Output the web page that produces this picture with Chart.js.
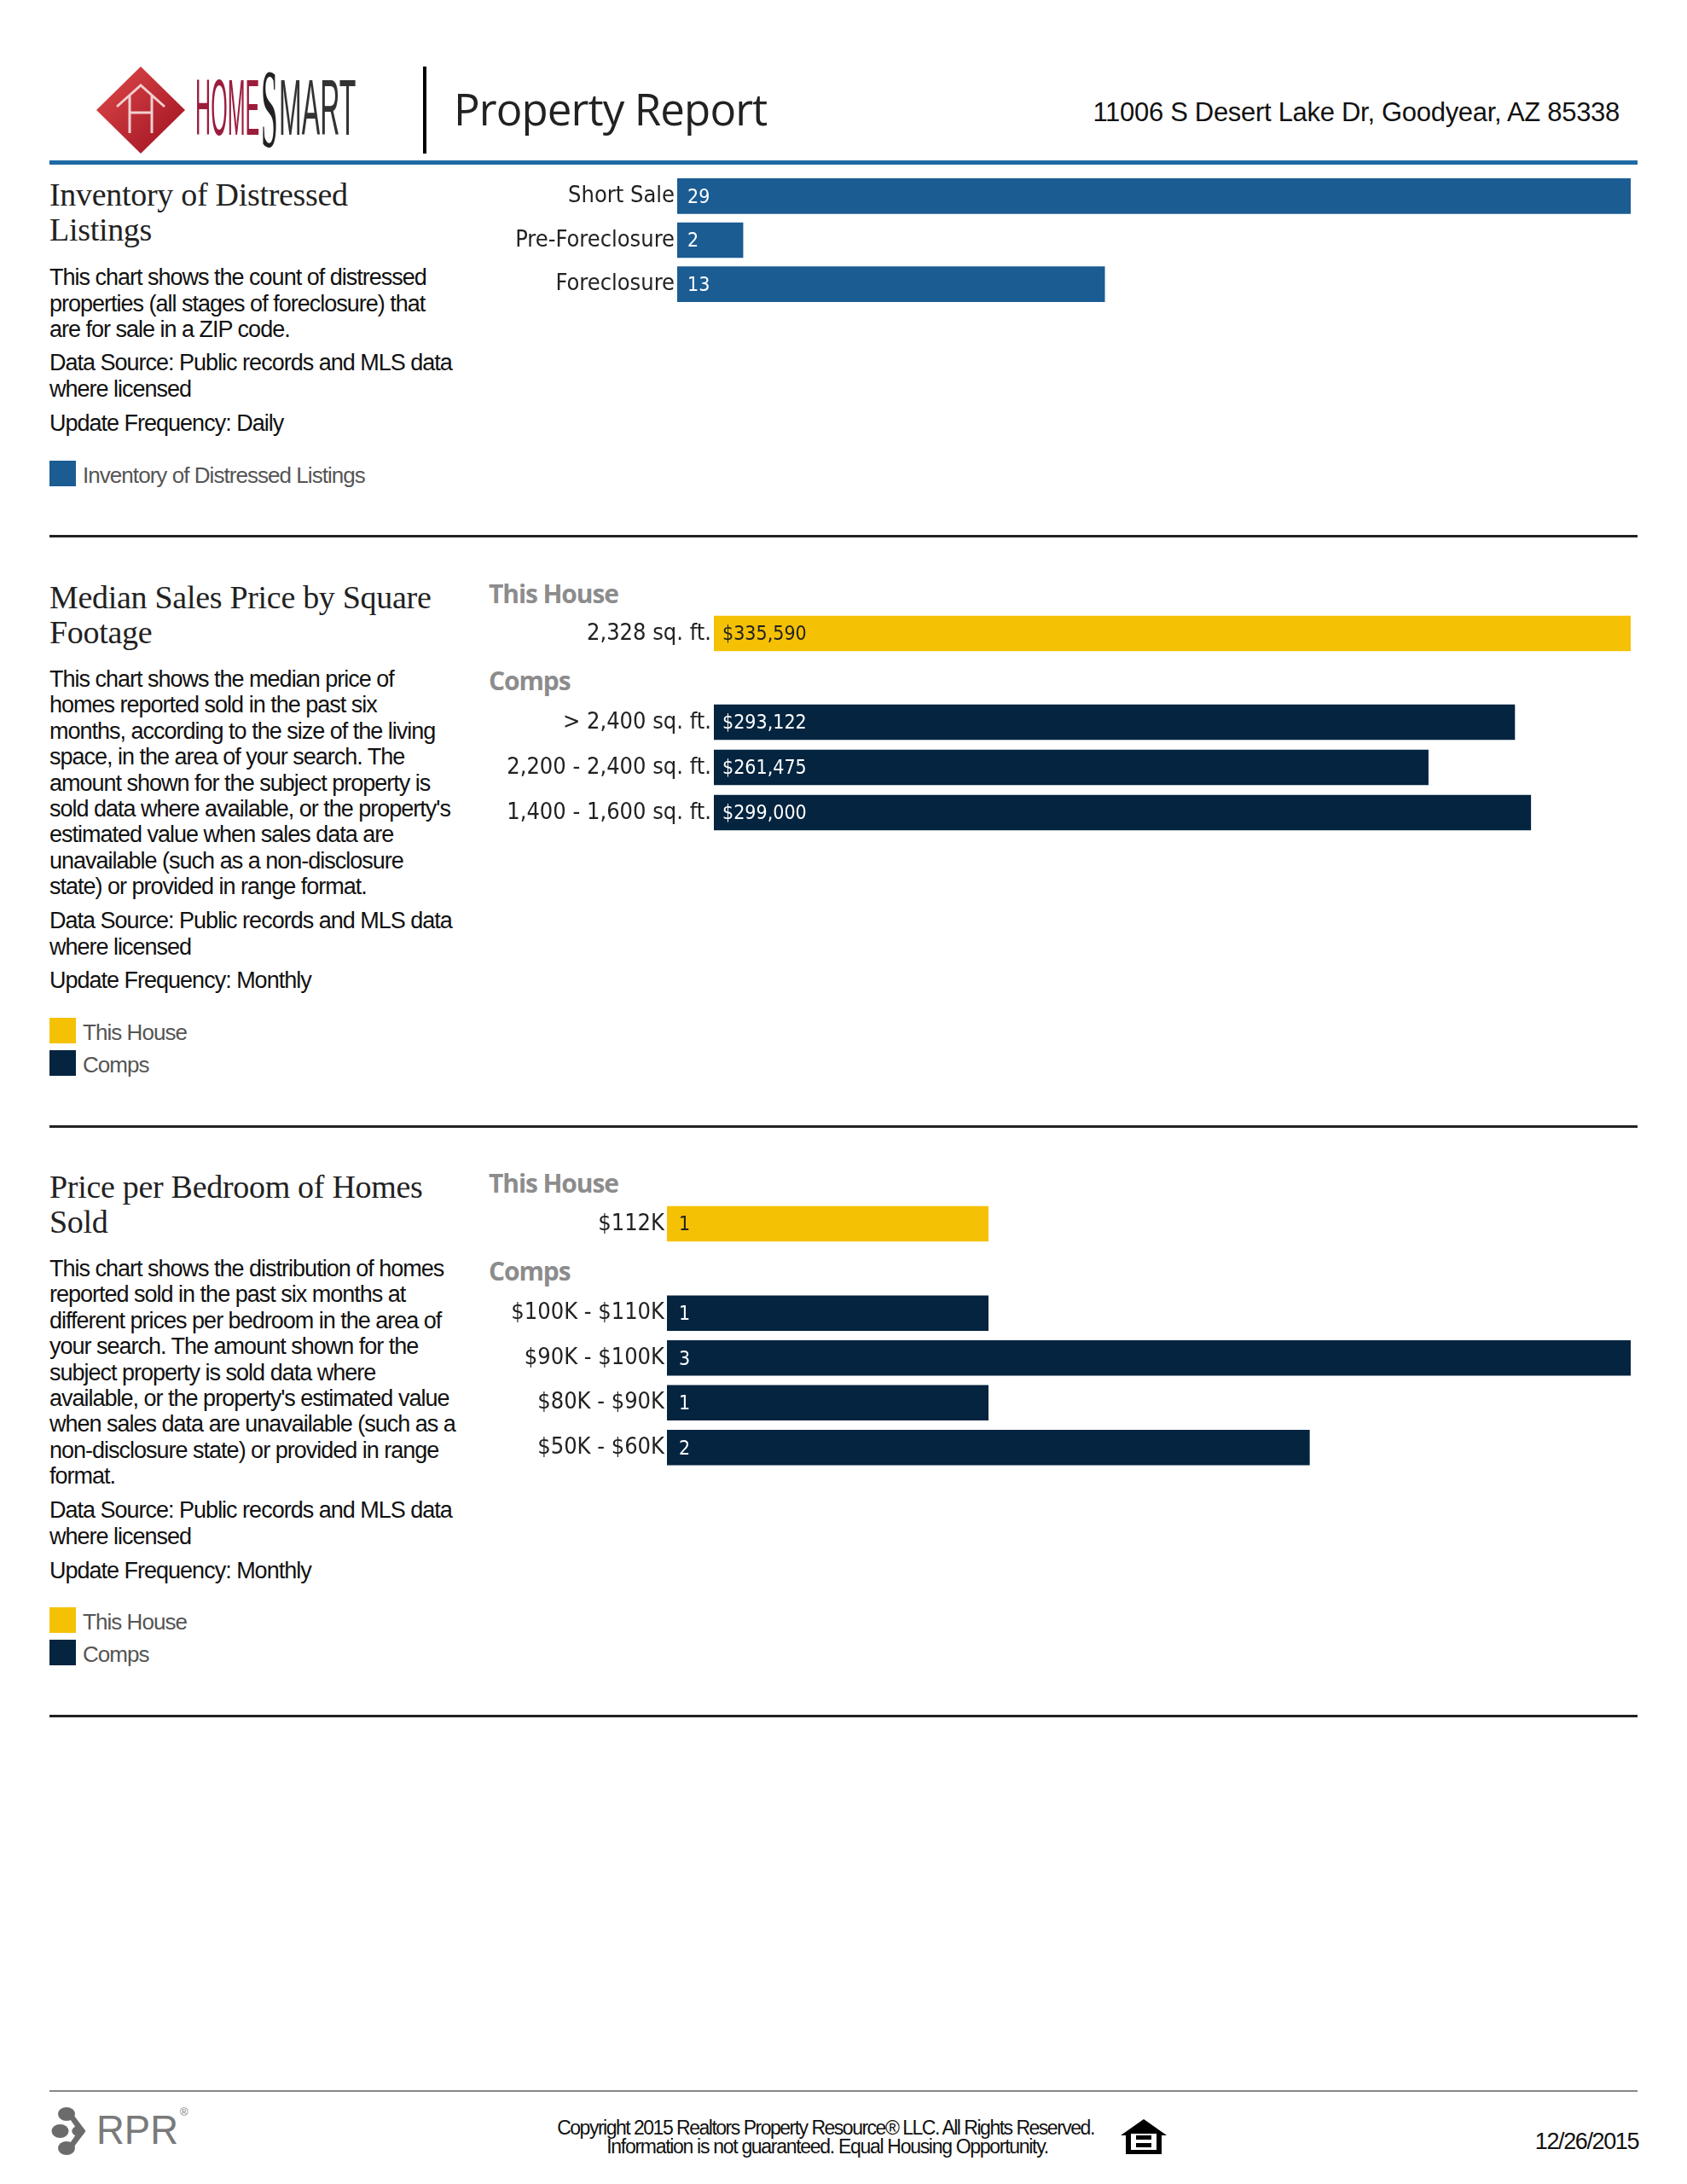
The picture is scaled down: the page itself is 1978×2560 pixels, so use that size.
<!DOCTYPE html>
<html>
<head>
<meta charset="utf-8">
<title>Property Report</title>
<script src="https://cdn.jsdelivr.net/npm/chart.js@4"></script>
<style>
html, body { margin: 0; background: #fff; }
#page { position: relative; width: 1978px; height: 2560px; overflow: hidden; }
#page canvas { position: absolute; }
.t { position: absolute; white-space: nowrap; line-height: 1; transform: translateY(-50%); }
.title { font-family: "Liberation Serif", serif; font-size: 38px; letter-spacing: -0.3px; color: #222; left: 58px; }
.body { font-family: "Liberation Sans", sans-serif; font-size: 27px; letter-spacing: -1px; color: #111; left: 58px; }
.leg { font-family: "Liberation Sans", sans-serif; font-size: 26px; letter-spacing: -0.95px; color: #555; left: 97px; }
.head { font-family: "Open Sans", sans-serif; font-weight: 700; font-size: 30px; letter-spacing: -1.1px; color: #8c8c8c; left: 573px; }
.logo { transform-origin: left center; font-family: "Liberation Sans", sans-serif; font-size: 93px; }
.swatch { position: absolute; left: 58px; width: 31px; height: 30px; }
.rule { position: absolute; left: 58px; width: 1862px; }
</style>
</head>
<body>
<div id="page">
  <svg style="position:absolute;left:0;top:0" width="520" height="200">
    <defs>
      <linearGradient id="red" x1="0" y1="0" x2="1" y2="1">
        <stop offset="0" stop-color="#e04a4a"/><stop offset="1" stop-color="#9c1020"/>
      </linearGradient>
    </defs>
    <polygon points="165,78 217,129 165,180 113,129" fill="url(#red)"/>
    <path d="M137 125 L165 100 L193 125 M152 112 V156 M178 112 V156 M152 132 H178" stroke="#f0d0d0" stroke-width="3" fill="none"/>
    <rect x="496" y="78" width="4" height="102" fill="#000"/>
  </svg>
  <div class="t logo" style="left:229px;top:126px;color:#9c1c3c;transform:translateY(-50%) scaleX(.27)">HOME</div>
  <div class="t logo" style="left:306px;top:128px;font-family:'Liberation Serif';font-size:132px;color:#222;transform:translateY(-50%) scaleX(.27)">S</div>
  <div class="t logo" style="left:327px;top:126px;color:#333;transform:translateY(-50%) scaleX(.345)">MART</div>
  <div class="t" style="left:532px;top:127px;font-family:'Open Sans';font-size:51px;letter-spacing:-0.9px;color:#222">Property Report</div>
  <div class="t" style="right:79px;top:131px;font-family:'Liberation Sans';font-size:31px;letter-spacing:-0.3px;color:#111">11006 S Desert Lake Dr, Goodyear, AZ 85338</div>
  <div class="rule" style="top:188px;height:5px;background:#1f69a4"></div>
  <div class="rule" style="top:627px;height:3px;background:#222"></div>
  <div class="rule" style="top:1319px;height:3px;background:#222"></div>
  <div class="rule" style="top:2010px;height:3px;background:#222"></div>
  <div class="rule" style="top:2450px;height:2px;background:#888"></div>

  <canvas id="distressed"></canvas>
  <canvas id="sqftHouse"></canvas>
  <canvas id="sqftComps"></canvas>
  <canvas id="bedHouse"></canvas>
  <canvas id="bedComps"></canvas>

  <svg style="position:absolute;left:50px;top:2460px" width="180" height="76">
    <g fill="#6b6b6b" transform="translate(3,0) scale(1.25,1)">
      <circle cx="20" cy="18" r="8"/><circle cx="14" cy="38" r="8"/><circle cx="20" cy="58" r="8"/><circle cx="31" cy="38" r="6"/>
      <path d="M20 18 L31 38 L20 58 L26 58 L38 38 L26 18 Z"/>
    </g>
    <text x="63" y="53" font-family="Liberation Sans" font-size="48" fill="#7a7a7a" textLength="96" lengthAdjust="spacingAndGlyphs">RPR</text>
    <text x="161" y="20" font-family="Liberation Sans" font-size="13" fill="#7a7a7a">®</text>
  </svg>
  <div class="t" style="left:968px;top:2494px;font-family:'Liberation Sans';font-size:23px;letter-spacing:-1.5px;color:#111;transform:translate(-50%,-50%)">Copyright 2015 Realtors Property Resource® LLC. All Rights Reserved.</div>
  <div class="t" style="left:970px;top:2516px;font-family:'Liberation Sans';font-size:23px;letter-spacing:-1.3px;color:#111;transform:translate(-50%,-50%)">Information is not guaranteed. Equal Housing Opportunity.</div>
  <svg style="position:absolute;left:1314px;top:2482px" width="56" height="46">
    <path d="M27 2 L54 21 H48 V43 H6 V21 H0 Z" fill="#000"/>
    <rect x="12" y="19" width="30" height="19" fill="#fff"/>
    <rect x="18" y="21" width="18" height="5" fill="#000"/><rect x="18" y="30" width="18" height="5" fill="#000"/>
  </svg>
  <div class="t" style="right:57px;top:2510px;font-family:'Liberation Sans';font-size:27px;letter-spacing:-1.4px;color:#111">12/26/2015</div>
</div>

<script>
// section 1
const distressedLabels = ['Short Sale', 'Pre-Foreclosure', 'Foreclosure'];
const distressedValues = [29, 2, 13];

// section 2
const sqftHouseLabels = ['2,328 sq. ft.'];
const sqftHouseValues = [335590];
const sqftCompLabels = ['> 2,400 sq. ft.', '2,200 - 2,400 sq. ft.', '1,400 - 1,600 sq. ft.'];
const sqftCompValues = [293122, 261475, 299000];

// section 3
const bedHouseLabels = ['$112K'];
const bedHouseValues = [1];
const bedCompLabels = ['$100K - $110K', '$90K - $100K', '$80K - $90K', '$50K - $60K'];
const bedCompValues = [1, 3, 1, 2];

const BLUE = '#1b5c93';
const YELLOW = '#f5c105';
const NAVY = '#04243f';
const CHART_FONT = '"DejaVu Sans Condensed", "DejaVu Sans", sans-serif';

// draws the value just inside the start of each bar
const valueLabels = {
    id: 'valueLabels',
    afterDatasetsDraw(chart, args, opts) {
        const ctx = chart.ctx;
        const meta = chart.getDatasetMeta(0);
        ctx.save();
        ctx.font = '23px ' + CHART_FONT;
        ctx.fillStyle = opts.color;
        ctx.textBaseline = 'middle';
        meta.data.forEach((bar, i) => {
            ctx.fillText(opts.format(chart.data.datasets[0].data[i]), bar.base + opts.inset, bar.y + 2);
        });
        ctx.restore();
    }
};

function barChart(id, cfg) {
    const el = document.getElementById(id);
    const left = 540;
    el.style.left = left + 'px';
    el.style.top = cfg.top + 'px';
    el.width = 1912 - left;
    el.height = cfg.height;
    return new Chart(el, {
        type: 'bar',
        data: {
            labels: cfg.labels,
            datasets: [{ data: cfg.values, backgroundColor: cfg.color, barThickness: 41 }]
        },
        plugins: [valueLabels],
        options: {
            indexAxis: 'y',
            responsive: false,
            animation: false,
            layout: { padding: 0 },
            plugins: {
                legend: { display: false },
                tooltip: { enabled: false },
                valueLabels: { color: cfg.textColor, inset: cfg.inset, format: cfg.format || (v => String(v)) }
            },
            scales: {
                x: { display: false, min: 0, max: cfg.max },
                y: {
                    afterFit: scale => {
                        scale.width = cfg.barStart - left;
                        scale.paddingTop = 0;
                        scale.paddingBottom = 0;
                    },
                    border: { display: false },
                    grid: { display: false, drawTicks: false },
                    ticks: { color: '#222', font: { family: CHART_FONT, size: 27 }, padding: 3, autoSkip: false }
                }
            }
        }
    });
}

const money = v => '$' + v.toLocaleString('en-US');

barChart('distressed', { top: 204, height: 155, labels: distressedLabels, values: distressedValues, max: 29,
    color: BLUE, textColor: '#fff', barStart: 794, inset: 12 });
barChart('sqftHouse', { top: 716, height: 53, labels: sqftHouseLabels, values: sqftHouseValues, max: 335590,
    color: YELLOW, textColor: '#222', barStart: 837, inset: 10, format: money });
barChart('sqftComps', { top: 820, height: 159, labels: sqftCompLabels, values: sqftCompValues, max: 335590,
    color: NAVY, textColor: '#fff', barStart: 837, inset: 10, format: money });
barChart('bedHouse', { top: 1408, height: 53, labels: bedHouseLabels, values: bedHouseValues, max: 3,
    color: YELLOW, textColor: '#222', barStart: 782, inset: 14 });
barChart('bedComps', { top: 1513, height: 210, labels: bedCompLabels, values: bedCompValues, max: 3,
    color: NAVY, textColor: '#fff', barStart: 782, inset: 14 });

// side text, one line at a time so the breaks stay as in the report
const page = document.getElementById('page');
function addText(cls, text, y) {
    const d = document.createElement('div');
    d.className = 't ' + cls;
    d.textContent = text;
    d.style.top = y + 'px';
    page.appendChild(d);
}
function addLines(cls, lines, y, pitch) {
    lines.forEach((line, i) => addText(cls, line, y + i * pitch));
}
function addSwatch(color, y) {
    const d = document.createElement('div');
    d.className = 'swatch';
    d.style.background = color;
    d.style.top = (y - 15) + 'px';
    page.appendChild(d);
}
const sourceLines = ['Data Source: Public records and MLS data', 'where licensed'];

addLines('title', ['Inventory of Distressed', 'Listings'], 228, 41);
addLines('body', ['This chart shows the count of distressed', 'properties (all stages of foreclosure) that', 'are for sale in a ZIP code.'], 325, 30.5);
addLines('body', sourceLines, 425, 30.5);
addText('body', 'Update Frequency: Daily', 496);
addSwatch(BLUE, 555);
addText('leg', 'Inventory of Distressed Listings', 557);

addLines('title', ['Median Sales Price by Square', 'Footage'], 700, 41);
addLines('body', ['This chart shows the median price of', 'homes reported sold in the past six', 'months, according to the size of the living', 'space, in the area of your search. The', 'amount shown for the subject property is', 'sold data where available, or the property\'s', 'estimated value when sales data are', 'unavailable (such as a non-disclosure', 'state) or provided in range format.'], 796, 30.4);
addLines('body', sourceLines, 1079, 30.5);
addText('body', 'Update Frequency: Monthly', 1149);
addText('head', 'This House', 696);
addText('head', 'Comps', 798);
addSwatch(YELLOW, 1208);
addText('leg', 'This House', 1210);
addSwatch(NAVY, 1246);
addText('leg', 'Comps', 1248);

addLines('title', ['Price per Bedroom of Homes', 'Sold'], 1391, 41);
addLines('body', ['This chart shows the distribution of homes', 'reported sold in the past six months at', 'different prices per bedroom in the area of', 'your search. The amount shown for the', 'subject property is sold data where', 'available, or the property\'s estimated value', 'when sales data are unavailable (such as a', 'non-disclosure state) or provided in range', 'format.'], 1487, 30.4);
addLines('body', sourceLines, 1770, 30.5);
addText('body', 'Update Frequency: Monthly', 1841);
addText('head', 'This House', 1387);
addText('head', 'Comps', 1490);
addSwatch(YELLOW, 1899);
addText('leg', 'This House', 1901);
addSwatch(NAVY, 1937);
addText('leg', 'Comps', 1939);
</script>
</body>
</html>
